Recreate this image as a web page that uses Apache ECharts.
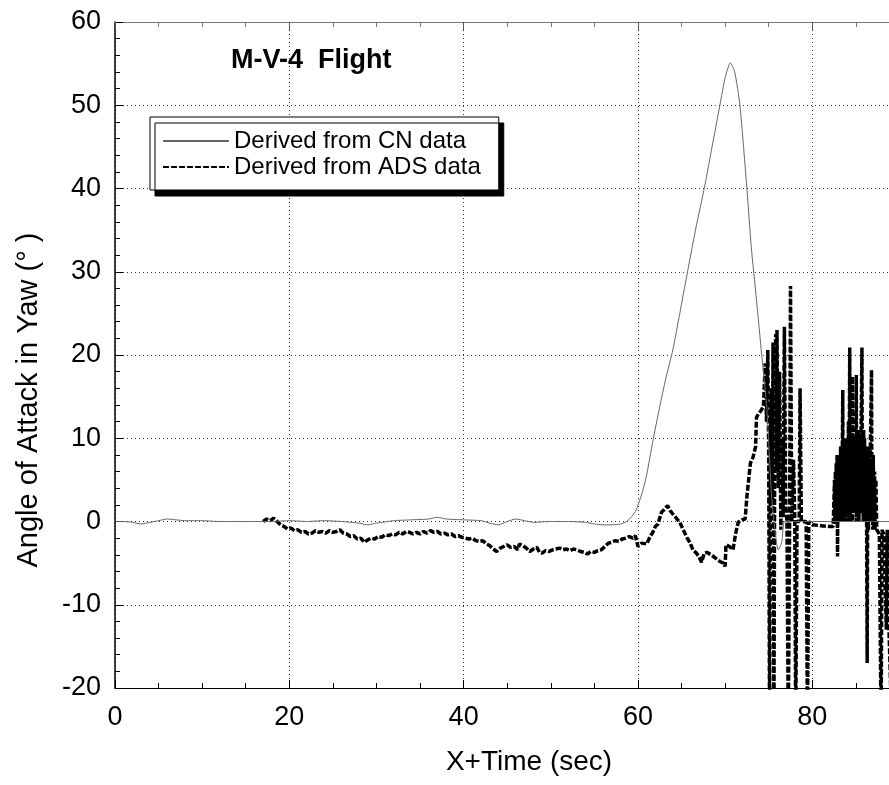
<!DOCTYPE html>
<html>
<head>
<meta charset="utf-8">
<script src="https://cdn.jsdelivr.net/npm/echarts@6/dist/echarts.min.js"></script>
<style>
  html, body { margin: 0; padding: 0; background: #fff; overflow: hidden; }
  /* the reference is cropped on the right, so the canvas runs past the window edge */
  #chart { width: 943px; height: 785px; }
</style>
</head>
<body>
<div id="chart"></div>
<script>
// values: [time (s), angle (deg)]
const cnCurve = [
  [0, 0], [1, 0], [2, -0.1], [3, -0.3], [4, -0.1], [5, 0.1], [6, 0.3], [7, 0.2],
  [8, 0.1], [10, 0.1], [12, 0], [14, 0], [16, 0], [18, 0], [20, 0.1], [22, 0],
  [24, 0.1], [26, 0], [28, -0.2], [29, -0.4], [30, -0.2], [32, 0.1], [34, 0.2],
  [36, 0.3], [37, 0.5], [38, 0.3], [40, 0.2], [42, 0.1], [43, -0.2], [44, -0.4],
  [45, 0], [46, 0.3], [47, 0.1], [48, -0.1], [50, 0], [52, 0], [54, -0.1],
  [55, -0.3], [56, -0.4], [57, -0.4], [58, -0.3], [58.7, 0], [59.3, 0.6],
  [59.8, 1.4], [60.5, 3.5], [61, 5.6], [61.7, 9.6], [62.5, 13.8], [63.2, 17.2],
  [64, 20.6], [64.8, 25], [65.6, 29.5], [66.6, 35], [67.7, 40.5], [68.5, 45],
  [69.4, 50], [70, 53.3], [70.6, 55.1], [71.1, 54], [71.7, 50], [72.5, 40],
  [73, 33], [73.6, 26.6], [74.2, 20], [74.8, 13.4], [75.3, 3.5], [75.7, -1],
  [76.1, -3.4], [76.5, -2.5], [76.8, 0], [77.5, 0], [80, 0], [84, 0], [90, 0]
];

const adsCruise = [
  [17, 0], [17.4, 0.3], [17.8, 0.1], [18.2, 0.4], [18.6, 0], [19, -0.4],
  [19.4, -0.6], [19.8, -0.9], [20.2, -0.8], [20.6, -1.1], [21, -1], [21.4, -1.3],
  [21.8, -1.2], [22.2, -1.5], [22.6, -1.4], [23, -1.1], [23.4, -1.3], [23.8, -1.2],
  [24.2, -1.4], [24.6, -1.1], [25, -1.3], [25.4, -1.2], [25.8, -1], [26.2, -1.4],
  [26.6, -1.5], [27, -1.8], [27.4, -1.7], [27.8, -2.1], [28.2, -2], [28.6, -2.5],
  [29, -2.2], [29.4, -2], [29.8, -2.1], [30.2, -1.8], [30.6, -1.9], [31, -1.6],
  [31.4, -1.7], [31.8, -1.5], [32.2, -1.6], [32.6, -1.3], [33, -1.5], [33.4, -1.2],
  [33.8, -1.3], [34.2, -1.5], [34.6, -1.3], [35, -1.5], [35.4, -1.2], [35.8, -1.4],
  [36.2, -1.1], [36.6, -1.3], [37, -1.2], [37.4, -1.5], [37.8, -1.4], [38.2, -1.6],
  [38.6, -1.5], [39, -1.8], [39.4, -1.7], [39.8, -1.9], [40.2, -2], [40.6, -2.1],
  [41, -2], [41.4, -2.3], [41.8, -2.4], [42.2, -2.3], [42.6, -2.7], [43, -2.9],
  [43.4, -3.3], [43.8, -3.6], [44.2, -3.2], [44.6, -3], [45, -2.8], [45.4, -3.1],
  [45.8, -3], [46.2, -3.4], [46.4, -2.7], [46.8, -2.9], [47.2, -3.2], [47.6, -3.6],
  [48, -3.3], [48.4, -3.1], [48.7, -3.7], [49, -3.8], [49.4, -3.5], [49.8, -3.6],
  [50.2, -3.4], [50.6, -3.3], [51, -3.2], [51.4, -3.4], [51.8, -3.3], [52.2, -3.5],
  [52.6, -3.3], [53, -3.4], [53.4, -3.6], [53.8, -3.7], [54.2, -3.9], [54.6, -3.6],
  [55, -3.7], [55.4, -3.5], [55.8, -3.4], [56.2, -3], [56.6, -2.6], [57, -2.5],
  [57.4, -2.3], [57.8, -2.4], [58.2, -2.1], [58.6, -2], [59, -1.8], [59.4, -2],
  [59.7, -1.7]
];

const adsClimb = [
  [60, -3], [60.4, -2.6], [61, -2.7], [61.4, -1.8], [61.7, -1.3], [62, -0.6],
  [62.3, -0.3], [62.7, 1.1], [63, 1.4], [63.4, 1.9], [63.7, 1.3], [64, 0.9],
  [64.4, 0.4], [64.8, -0.1], [65.2, -1], [65.6, -1.9], [66, -2.6], [66.3, -3.4],
  [66.7, -3.8], [67, -4.2], [67.3, -4.9], [67.6, -3.8], [67.9, -3.7], [68.4, -4],
  [68.9, -4.4], [69.4, -4.8], [69.8, -5], [70, -5.4], [70.1, -2.8], [70.5, -3],
  [70.9, -3.4], [71.2, -1.5], [71.5, -0.1], [71.9, 0.2], [72.3, 0.3], [72.5, 3],
  [72.7, 5], [72.9, 7], [73.2, 7.7], [73.5, 9], [73.6, 12.5], [73.8, 12.9],
  [74.1, 13.3], [74.4, 13.8]
];

const adsBurst1 = [
  [74.6, 19], [74.75, 12], [74.9, 20.6], [75.0, 8], [75.1, -25], [75.2, 10],
  [75.3, 16], [75.4, 2], [75.5, 21.5], [75.6, -25], [75.7, 12], [75.8, 22.5],
  [75.9, 6], [75.95, 23], [76.1, 4], [76.25, 18], [76.4, -1], [76.55, 10],
  [76.65, 0.5], [76.8, 23.4], [76.95, 2], [77.1, 0], [77.25, -25], [77.4, 0],
  [77.5, 28.3], [77.65, 0], [77.85, 7.4], [78, 0], [78.1, -25], [78.25, 0],
  [78.5, 0], [78.6, 16], [78.75, 0], [79.3, 0], [79.45, -25], [79.6, 0],
  [80, -0.4], [81, -0.5], [82, -0.6], [82.4, -0.6]
];

const adsBurst2 = [
  [82.5, -0.5], [82.55, 5], [82.6, 0], [82.65, 6], [82.7, -0.3], [82.75, 7],
  [82.8, 1], [82.85, 8], [82.9, -4.2], [82.95, 6], [83, 0], [83.05, 8], [83.1, 0],
  [83.15, 7], [83.2, 1], [83.25, 9], [83.3, 0], [83.35, 8], [83.4, 1], [83.5, 15.8],
  [83.55, 0], [83.6, 9], [83.65, 1], [83.7, 10], [83.75, 0], [83.8, 9], [83.85, 2],
  [83.9, 10], [83.95, 0], [84, 9], [84.05, 1], [84.15, 12], [84.2, 0], [84.3, 20.9],
  [84.35, 0], [84.4, 9], [84.45, 1], [84.5, 10], [84.55, 3], [84.6, 17.4], [84.65, 0],
  [84.7, 9], [84.75, 1], [84.8, 10], [84.85, 2], [84.9, 9], [84.95, 1], [85.05, 17.6],
  [85.1, 0], [85.15, 10], [85.2, 1], [85.3, 11], [85.35, 0], [85.45, 10], [85.5, 1],
  [85.6, 11], [85.7, 20.9], [85.75, 1], [85.8, 10], [85.85, 0], [85.9, 11], [85.95, 2],
  [86, 10], [86.05, 0], [86.1, 9], [86.15, 1], [86.2, 9], [86.3, -17], [86.35, 0],
  [86.4, 8], [86.45, -1], [86.5, 9], [86.55, 0], [86.65, 8], [86.8, 18.2], [86.85, 0],
  [86.9, 7], [86.95, -1], [87, 8], [87.05, -1], [87.15, 6], [87.2, -1], [87.3, 5],
  [87.4, -1], [87.6, -1], [87.7, -1.5], [87.9, -25], [88, -1], [88.2, -1.5],
  [88.5, -13], [88.6, -1], [88.7, -1.2], [88.8, -13], [89, -20], [89.2, -1], [90, -8]
];

const seriesNames = ['Derived from CN data', 'Derived from ADS data'];
const xTicks = { min: 0, max: 95, step: 20 };
const yTicks = { min: -20, max: 60, step: 10 };

const font = "'Liberation Sans', Arial, Helvetica, sans-serif";
const chart = echarts.init(document.getElementById('chart'));

const option = {
  animation: false,
  backgroundColor: '#fff',
  textStyle: { fontFamily: font },
  title: {
    text: 'M-V-4  Flight',
    left: 226,
    top: 42,
    textStyle: { fontFamily: font, fontSize: 27, fontWeight: 'bold', color: '#000' }
  },
  legend: {
    data: seriesNames,
    orient: 'vertical',
    left: 150,
    top: 117,
    padding: [12, 18, 11, 12],
    itemGap: 2,
    itemWidth: 66,
    itemHeight: 14,
    backgroundColor: '#fff',
    borderColor: '#000',
    borderWidth: 1,
    shadowColor: '#000',
    shadowBlur: 0,
    shadowOffsetX: 5,
    shadowOffsetY: 6,
    itemStyle: { opacity: 0 },
    textStyle: { fontFamily: font, fontSize: 24, color: '#000' }
  },
  grid: { left: 115, right: 0, top: 22, bottom: 97 },
  xAxis: [
    {
      type: 'value',
      min: xTicks.min,
      max: xTicks.max,
      interval: xTicks.step,
      name: 'X+Time (sec)',
      nameLocation: 'middle',
      nameGap: 60,
      nameTextStyle: { fontFamily: font, fontSize: 28, color: '#000' },
      axisLine: { show: true, onZero: false, lineStyle: { color: '#000', width: 1 } },
      axisTick: { show: true, inside: true, length: 8, lineStyle: { color: '#000' } },
      minorTick: { show: true, splitNumber: 4, length: 5, lineStyle: { color: '#000' } },
      splitLine: { show: true, lineStyle: { type: [1, 3], color: '#333', width: 1 } },
      axisLabel: { fontFamily: font, fontSize: 27, color: '#000', margin: 16, showMaxLabel: false }
    },
    {
      type: 'value',
      position: 'top',
      min: xTicks.min,
      max: xTicks.max,
      interval: xTicks.step,
      axisLine: { show: true, onZero: false, lineStyle: { color: '#777', width: 1 } },
      axisTick: { show: true, inside: true, length: 8, lineStyle: { color: '#555' } },
      minorTick: { show: true, splitNumber: 4, length: 5, lineStyle: { color: '#777' } },
      splitLine: { show: false },
      axisLabel: { show: false }
    }
  ],
  yAxis: {
    type: 'value',
    min: yTicks.min,
    max: yTicks.max,
    interval: yTicks.step,
    name: 'Angle of Attack in Yaw (° )',
    nameLocation: 'middle',
    nameGap: 72,
    nameTextStyle: { fontFamily: font, fontSize: 29, color: '#000', padding: [0, 90, 0, 0] },
    axisLine: { show: true, onZero: false, lineStyle: { color: '#000', width: 1.5 } },
    axisTick: { show: true, inside: true, length: 8, lineStyle: { color: '#000' } },
    minorTick: { show: true, splitNumber: 5, length: 5, lineStyle: { color: '#000' } },
    splitLine: { show: true, lineStyle: { type: [1, 3], color: '#333', width: 1 } },
    axisLabel: { fontFamily: font, fontSize: 27, color: '#000', margin: 14 }
  },
  series: [
    {
      name: seriesNames[1],
      type: 'line',
      data: adsCruise.concat(adsClimb, adsBurst1, adsBurst2),
      showSymbol: false,
      symbol: 'none',
      clip: true,
      lineStyle: { color: '#000', width: 3.5, type: [6, 2] },
      itemStyle: { color: '#000' }
    },
    {
      name: seriesNames[0],
      type: 'line',
      data: cnCurve,
      showSymbol: false,
      symbol: 'none',
      smooth: 0.2,
      clip: true,
      lineStyle: { color: '#666', width: 1 },
      itemStyle: { color: '#666' }
    }
  ]
};

chart.setOption(option);
</script>
</body>
</html>
